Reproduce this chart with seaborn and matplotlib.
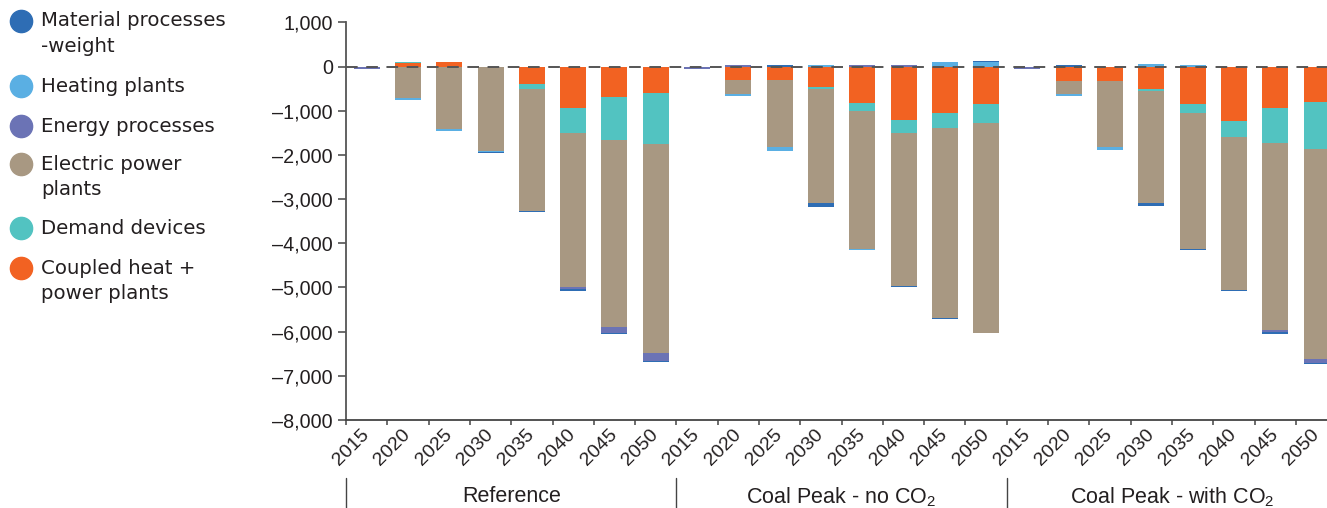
import numpy as np
import pandas as pd
import matplotlib
matplotlib.use("Agg")
import matplotlib.pyplot as plt
import matplotlib.transforms as mtransforms
from matplotlib.lines import Line2D
import seaborn as sns

# ---------------- data ----------------
years = ["2015", "2020", "2025", "2030", "2035", "2040", "2045", "2050"]
scenarios = ["Reference", "Coal Peak - no CO$_2$", "Coal Peak - with CO$_2$"]

# values per scenario block: Reference | Coal Peak no CO2 | Coal Peak with CO2
coupled_heat_power = [0, 80, 105, -15, -390, -930, -680, -600,
                      0, -300, -300, -460, -820, -1205, -1050, -845,
                      0, -325, -325, -505, -850, -1240, -940, -790]
demand_devices = [0, 20, 0, 0, -120, -570, -975, -1160,
                  0, 0, 0, -45, -180, -295, -330, -430,
                  0, 0, 0, -45, -205, -355, -785, -1085]
electric_power = [0, -700, -1410, -1890, -2750, -3480, -4250, -4720,
                  0, -320, -1515, -2580, -3120, -3455, -4305, -4745,
                  0, -295, -1495, -2535, -3075, -3470, -4240, -4750]
energy_processes = [-45, 0, 0, 0, 0, -60, -130, -175,
                    -45, 35, 0, 0, 35, 35, 0, 0,
                    -50, 0, 0, 0, 0, 0, -45, -85]
heating_plants = [0, -45, -45, -30, 0, 0, 0, 0,
                  0, -45, -90, 35, -20, 0, 105, 105,
                  0, -45, -70, 60, 35, 0, 0, 0]
material_processes = [0, 0, 0, -15, -38, -50, -25, -30,
                      0, 0, 35, -90, 0, -30, -25, 25,
                      0, 35, 0, -70, -20, -25, -45, -30]

legend_labels = ["Material processes\n-weight", "Heating plants", "Energy processes",
                 "Electric power\nplants", "Demand devices", "Coupled heat +\npower plants"]
y_ticks = [1000, 0, -1000, -2000, -3000, -4000, -5000, -6000, -7000, -8000]
y_tick_labels = ["1,000", "0", "\u20131,000", "\u20132,000", "\u20133,000", "\u20134,000",
                 "\u20135,000", "\u20136,000", "\u20137,000", "\u20138,000"]

colors = {
    "material": "#2E6DB4",
    "heating": "#5AAFE3",
    "energy": "#6B73B5",
    "electric": "#A89882",
    "demand": "#52C3C1",
    "coupled": "#F26222",
}

# ---------------- style ----------------
sns.set_theme(style="white")
plt.rcParams["font.family"] = ["Liberation Sans", "DejaVu Sans"]
plt.rcParams["mathtext.fontset"] = "custom"
plt.rcParams["mathtext.rm"] = "Liberation Sans"
plt.rcParams["mathtext.it"] = "Liberation Sans"
plt.rcParams["mathtext.default"] = "regular"
text_color = "#231F20"

fig = plt.figure(figsize=(13.27, 5.08), dpi=100)
W, H = 1327.0, 508.0
slot_px = 41.3
ax_left, ax_right = 346.0, 346.0 + 24 * slot_px
ax_top, ax_bottom = 22.5, 420.0
ax = fig.add_axes([ax_left / W, 1 - ax_bottom / H, (ax_right - ax_left) / W, (ax_bottom - ax_top) / H])

keys = [f"{s}|{y}" for s in scenarios for y in years]
stack = [
    ("coupled", coupled_heat_power),
    ("demand", demand_devices),
    ("electric", electric_power),
    ("energy", energy_processes),
    ("heating", heating_plants),
    ("material", material_processes),
]
pos_base = np.zeros(len(keys))
neg_base = np.zeros(len(keys))
for name, vals in stack:
    v = np.asarray(vals, dtype=float)
    bottom = np.where(v >= 0, pos_base, neg_base)
    df = pd.DataFrame({"slot": keys, "value": v})
    sns.barplot(data=df, x="slot", y="value", order=keys, color=colors[name],
                saturation=1, width=0.63, errorbar=None, bottom=bottom,
                linewidth=0, ax=ax, zorder=2)
    pos_base += np.where(v > 0, v, 0)
    neg_base += np.where(v < 0, v, 0)

# zero line
ax.axhline(0, color="#555555", lw=1.4, dashes=(6, 4.4), zorder=5)

# axes limits
ax.set_xlim(-0.5, len(keys) - 0.5)
ax.set_ylim(-8000, 1000)
ax.set_xlabel("")
ax.set_ylabel("")

# y axis
ax.set_yticks(y_ticks)
ax.set_yticklabels(y_tick_labels, fontsize=14.2, color=text_color)
ax.tick_params(axis="y", which="major", direction="out", length=5.5, width=1.1,
               color="#444444", pad=4, left=True)

# x axis: labels at centres, ticks at boundaries
ax.set_xticks(np.arange(len(keys)))
ax.set_xticklabels(years * len(scenarios), fontsize=14, color=text_color)
for lab in ax.get_xticklabels():
    lab.set_rotation(45)
    lab.set_ha("right")
    lab.set_va("center")
    lab.set_rotation_mode("anchor")
ax.tick_params(axis="x", which="major", length=0, pad=8.5)
ax.set_xticks(np.arange(-0.5, len(keys), 1.0), minor=True)
ax.tick_params(axis="x", which="minor", direction="out", length=3.8, width=1.1,
               color="#444444", bottom=True)

for side in ["top", "right"]:
    ax.spines[side].set_visible(False)
ax.spines["left"].set_color("#555555")
ax.spines["left"].set_linewidth(1.3)
ax.spines["bottom"].set_color("#444444")
ax.spines["bottom"].set_linewidth(1.3)

# group separators and labels
trans = mtransforms.blended_transform_factory(ax.transData, ax.transAxes)
h_ax = ax_bottom - ax_top
for i, scen in enumerate(scenarios):
    xb = i * len(years) - 0.5
    ax.plot([xb, xb], [-(478 - ax_bottom) / h_ax, -(510 - ax_bottom) / h_ax],
            transform=trans, clip_on=False, color="#444444", lw=1.0)
    ax.text(i * len(years) + (len(years) - 1) / 2, -(497 - ax_bottom) / h_ax, scen,
            transform=trans, ha="center", va="center", fontsize=15.5, color=text_color)

# legend (manual, markers aligned with first text line)
legend_colors = [colors["material"], colors["heating"], colors["energy"],
                 colors["electric"], colors["demand"], colors["coupled"]]
first_line_y = [21, 86, 126, 164, 228, 268]
line_gap = 25.5
for lab, col, yy in zip(legend_labels, legend_colors, first_line_y):
    fig.add_artist(Line2D([21 / W], [1 - yy / H], transform=fig.transFigure,
                          marker="o", markersize=16, color=col, linestyle="none"))
    for j, line in enumerate(lab.split("\n")):
        fig.text(41.5 / W, 1 - (yy + j * line_gap) / H, line, ha="left", va="center",
                 fontsize=14.2, color=text_color, family=["DejaVu Sans"])

fig.savefig("out.png", dpi=100)
